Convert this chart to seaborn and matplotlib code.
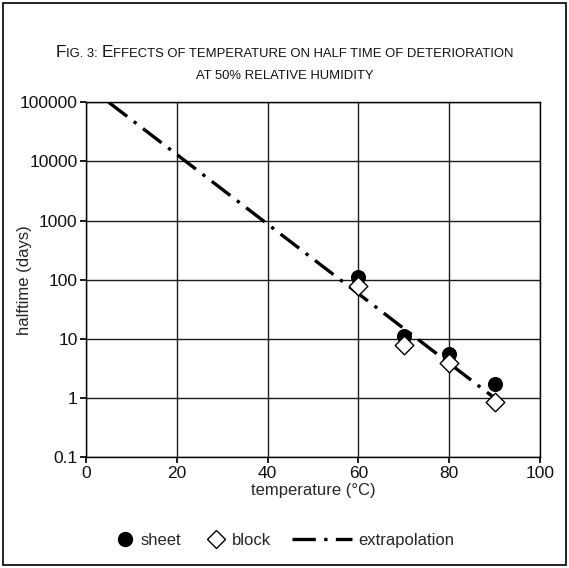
import matplotlib
matplotlib.use("Agg")
import matplotlib.pyplot as plt
import seaborn as sns
import pandas as pd
from matplotlib.lines import Line2D
from matplotlib.patches import Rectangle

# data
temps = [60, 70, 80, 90]
sheet = [110, 11.2, 5.5, 1.7]
block = [79, 7.8, 3.9, 0.85]
extrap_t = [5, 90]
extrap_h = [100000, 1.0]
x_ticks = [0, 20, 40, 60, 80, 100]
y_ticks = [0.1, 1, 10, 100, 1000, 10000, 100000]
y_labels = ["0.1", "1", "10", "100", "1000", "10000", "100000"]
title_1 = [("F", "big"), ("IG. 3: ", "small"), ("E", "big"),
           ("FFECTS OF TEMPERATURE ON HALF TIME OF DETERIORATION", "small")]
title_2 = [("AT 50% RELATIVE HUMIDITY", "small")]

sns.set_theme(style="white")
plt.rcParams["font.family"] = ["Liberation Sans", "DejaVu Sans"]

df = pd.DataFrame({"temp": temps * 2,
                   "half": sheet + block,
                   "kind": ["sheet"] * 4 + ["block"] * 4})
ext = pd.DataFrame({"temp": extrap_t, "half": extrap_h})
DASH = [7, 2.5, 1, 2.5]

fig = plt.figure(figsize=(5.69, 5.68), dpi=100)
ax = fig.add_axes([0.151, 0.195, 0.798, 0.625])

sns.lineplot(data=ext, x="temp", y="half", ax=ax, color="black", lw=2.4, zorder=2)
ax.lines[-1].set_dashes(DASH)
sns.scatterplot(data=df[df.kind == "sheet"], x="temp", y="half", ax=ax,
                marker="o", color="black", s=100, edgecolor="black", zorder=3)
sns.scatterplot(data=df[df.kind == "block"], x="temp", y="half", ax=ax,
                marker="D", color="white", s=90, edgecolor="black",
                linewidth=1.0, zorder=4)

ax.set_yscale("log")
ax.set_xlim(0, 100)
ax.set_ylim(0.1, 100000)
ax.set_xticks(x_ticks)
ax.set_yticks(y_ticks)
ax.set_yticklabels(y_labels)
ax.minorticks_off()
ax.tick_params(axis="both", labelsize=12.5, length=4, color="black",
               direction="out", bottom=True, left=True, pad=2, labelcolor="#111111")
ax.grid(True, color="#1a1a1a", lw=1.0)
ax.set_axisbelow(True)
for s in ax.spines.values():
    s.set_color("black")
    s.set_linewidth(1.0)
ax.set_xlabel("temperature (°C)", fontsize=12, labelpad=2)
ax.set_ylabel("halftime (days)", fontsize=12)
ax.yaxis.set_label_coords(-0.118, 0.5)


def small_caps(parts, y, big=12, small=9, target_w=None, scale=1.0):
    # draw a line of fake small caps, centered; optionally scaled to a target width
    fig.canvas.draw()
    r = fig.canvas.get_renderer()
    sizes = {"big": big * scale, "small": small * scale}
    texts = [fig.text(0, y, t, fontsize=sizes[k], va="baseline", color="#111111")
             for t, k in parts]
    widths = [t.get_window_extent(r).width for t in texts]
    total = sum(widths)
    f = 1.0
    if target_w:
        f = target_w / total
        for t, (_, k) in zip(texts, parts):
            t.set_fontsize(sizes[k] * f)
        widths = [t.get_window_extent(r).width for t in texts]
        total = sum(widths)
    x = (fig.bbox.width - total) / 2
    for t, w in zip(texts, widths):
        t.set_x(x / fig.bbox.width)
        x += w
    return f


k = small_caps(title_1, 0.900, target_w=454)
small_caps(title_2, 0.861, scale=k)

sheet_h = Line2D([], [], marker="o", color="black", ls="none", markersize=10)
block_h = Line2D([], [], marker="D", markerfacecolor="white", markeredgecolor="black",
                 ls="none", markersize=9.5)
ext_h = Line2D([], [], color="black", lw=2.4, dashes=DASH)
fig.legend([sheet_h, block_h], ["sheet", "block"], loc="center right",
           bbox_to_anchor=(0.477, 0.049), ncol=2, frameon=False, fontsize=12,
           handlelength=1.0, columnspacing=1.6, handletextpad=0.45,
           borderpad=0, borderaxespad=0)
fig.legend([ext_h], ["extrapolation"], loc="center left",
           bbox_to_anchor=(0.513, 0.049), frameon=False, fontsize=12,
           handlelength=3.6, handletextpad=0.4, borderpad=0, borderaxespad=0)

fig.patches.append(Rectangle((0.006, 0.006), 0.988, 0.988, transform=fig.transFigure,
                             fill=False, edgecolor="black", lw=1.2))

fig.savefig("out.png", dpi=100)
